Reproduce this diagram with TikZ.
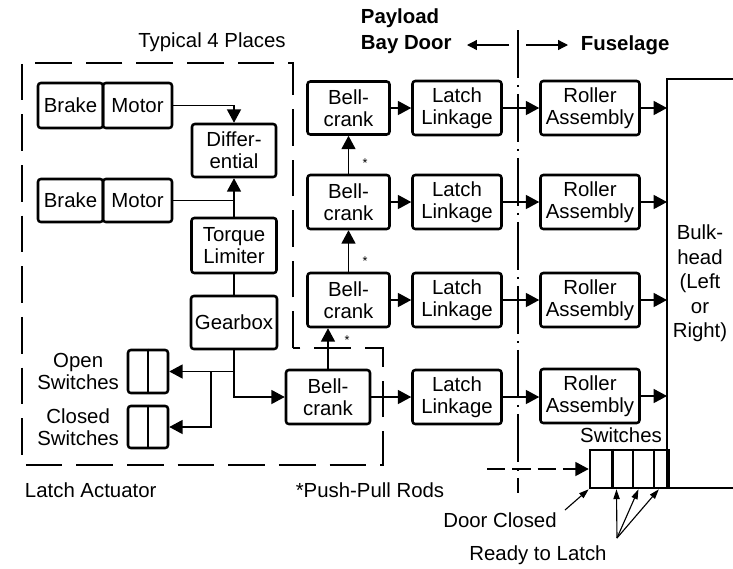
\documentclass[tikz,border=0pt]{standalone}
\usepackage{fontspec}
\setmainfont{Liberation Sans}
\usetikzlibrary{arrows.meta,calc,positioning}

\begin{document}
\begin{tikzpicture}[x=0.025cm, y=-0.025cm,
    every node/.style={font=\fontsize{14.5}{15.6}\selectfont},
    blk/.style={draw, line width=1.8pt, rounded corners=2pt, align=center, inner sep=1pt},
    wh/.style 2 args={minimum width=#1*0.025cm, minimum height=#2*0.025cm},
    wire/.style={line width=0.95pt},
    conn/.style={line width=0.95pt, -{Triangle[length=9.5pt,width=10pt]}},
    ptr/.style={line width=0.8pt, -{Triangle[length=7pt,width=4.5pt]}},
    hdr/.style={line width=0.9pt, -{Triangle[length=7pt,width=7pt]}},
    encl/.style={line width=1.7pt, dash pattern=on 26pt off 10pt},
    split/.style={line width=1.3pt, dash pattern=on 34pt off 5pt on 1.5pt off 5pt},
    star/.style={font=\small}]
    \useasboundingbox (0,0) rectangle (733,568);

    % 1. Latch actuator
    \node[blk, wh={65}{45}] (brk1) at (70.5,105.5) {Brake};
    \node[blk, wh={69}{45}] (mot1) at (137.5,105.5) {Motor};
    \node[blk, wh={84}{53}] (diff) at (234,150.5) {Differ-\\ential};
    \node[blk, wh={65}{43}] (brk2) at (70.5,200.5) {Brake};
    \node[blk, wh={69}{43}] (mot2) at (137.5,200.5) {Motor};
    \node[blk, wh={85}{55}] (torq) at (234,245.5) {Torque\\Limiter};
    \node[blk, wh={86}{53}] (gear) at (234,322.5) {Gearbox};
    \node[blk, wh={40}{43}] (osw) at (148,371.5) {};
    \node[blk, wh={40}{42}] (csw) at (148,427) {};
    \draw[line width=1.8pt] (osw.north) -- (osw.south);
    \draw[line width=1.8pt] (csw.north) -- (csw.south);
    \node[align=center, left=2pt of osw] (oswl) {Open\\Switches};
    \node[align=center, left=2pt of csw] (cswl) {Closed\\Switches};
    \node (typ) at (212,42) {Typical 4 Places};
    \node[anchor=west] (latact) at (20,490) {Latch Actuator};
    \draw[encl] (293,348) -- (293,63) -- (22,63) -- (22,465) -- (383,465) -- (383,348) -- cycle;

    % 2. Bell-cranks, latch linkages, rollers
    \node[blk, wh={82}{53}] (bc1) at (348.5,108) {Bell-\\crank};
    \node[blk, wh={82}{54}] (bc2) at (348.5,202) {Bell-\\crank};
    \node[blk, wh={82}{54}] (bc3) at (348.5,300) {Bell-\\crank};
    \node[blk, wh={84}{54}] (bc4) at (328,397) {Bell-\\crank};
    \node[blk, wh={89}{54}] (ll1) at (457,108) {Latch\\Linkage};
    \node[blk, wh={89}{54}] (ll2) at (457,202) {Latch\\Linkage};
    \node[blk, wh={89}{54}] (ll3) at (457,300) {Latch\\Linkage};
    \node[blk, wh={89}{54}] (ll4) at (457,397) {Latch\\Linkage};
    \node[blk, wh={99}{54}] (ra1) at (590,108) {Roller\\Assembly};
    \node[blk, wh={99}{54}] (ra2) at (590,202) {Roller\\Assembly};
    \node[blk, wh={99}{54}] (ra3) at (590,300) {Roller\\Assembly};
    \node[blk, wh={99}{54}] (ra4) at (590,396) {Roller\\Assembly};
    \node[align=center, font=\fontsize{14.5}{17.4}\selectfont, inner sep=0pt, outer sep=0pt,
        minimum width=66*0.025cm, minimum height=409*0.025cm] (bulk) at (700,283.5)
        {Bulk-\\head\\(Left\\or\\Right)};
    \draw[line width=1.8pt] (bulk.north east) -- (bulk.north west) -- (bulk.south west) -- (bulk.south east);
    \node[star] (st1) at (365,163) {*};
    \node[star] (st2) at (365,261) {*};
    \node[star] (st3) at (347,340) {*};
    \node (ppr) at (370,490) {*Push-Pull Rods};

    % 3. Switches at the bulkhead
    \node[draw, line width=1.8pt, wh={79}{38}] (sw) at (629.5,469) {};
    \draw[line width=1.8pt] ($(sw.north west)!0.29!(sw.north east)$) -- ($(sw.south west)!0.29!(sw.south east)$);
    \draw[line width=1.8pt] ($(sw.north west)!0.545!(sw.north east)$) -- ($(sw.south west)!0.545!(sw.south east)$);
    \draw[line width=1.8pt] ($(sw.north west)!0.8!(sw.north east)$) -- ($(sw.south west)!0.8!(sw.south east)$);
    \node (swl) at (621,435) {Switches};
    \node (dc) at (500,520) {Door Closed};
    \node (rtl) at (538,555) {Ready to Latch};

    % 4. Payload bay door / fuselage split
    \node[align=left, anchor=west, font=\bfseries\fontsize{14.5}{18.5}\selectfont] (pbd) at (356,31) {Payload\\Bay Door};
    \node[anchor=west, font=\bfseries\fontsize{14.5}{18.5}\selectfont] (fus) at (576,45) {Fuselage};
    \coordinate (divtop) at (518,30);
    \coordinate (divbot) at (518,493);
    \draw[split] (divtop) -- (divbot);
    \coordinate (hl) at (509,45);
    \coordinate (hr) at (526,45);
    \draw[hdr] (hl) -- ++(-42,0);
    \draw[hdr] (hr) -- ++(42,0);

    % 5. Connectors
    \draw[conn] (mot1.east) -| (diff.north);
    \draw[wire] (mot2.east) -| (torq.north);
    \draw[conn] (torq.north) -- (diff.south);
    \draw[wire] (torq.south) -- (gear.north);
    \draw[conn] (gear.south) |- (bc4.west);
    \draw[conn] (gear.south |- osw.east) -- (osw.east);
    \coordinate (swj) at (211,371.5);
    \draw[conn] (swj) |- (csw.east);
    \draw[conn] (bc4.north) -- (bc4.north |- bc3.south);
    \draw[conn] (bc3.north) -- (bc2.south);
    \draw[conn] (bc2.north) -- (bc1.south);
    \draw[conn] (bc1.east) -- (ll1.west);
    \draw[conn] (bc2.east) -- (ll2.west);
    \draw[conn] (bc3.east) -- (ll3.west);
    \draw[conn] (bc4.east) -- (ll4.west);
    \draw[conn] (ll1.east) -- (ra1.west);
    \draw[conn] (ll2.east) -- (ra2.west);
    \draw[conn] (ll3.east) -- (ra3.west);
    \draw[conn] (ll4.east) -- (ll4.east -| ra4.west);
    \draw[conn] (ra1.east) -- (ra1.east -| bulk.west);
    \draw[conn] (ra2.east) -- (ra2.east -| bulk.west);
    \draw[conn] (ra3.east) -- (ra3.east -| bulk.west);
    \draw[conn] (ra4.east) -- (ra4.east -| bulk.west);
    \coordinate (swin) at (487,469);
    \draw[conn, dash pattern=on 13pt off 5pt] (swin) -- (sw.west);
    \coordinate (dcp) at (565,510);
    \draw[ptr] (dcp) -- (sw.south west);
    \coordinate (rtp) at (617,538);
    \draw[ptr] (rtp) -- ($(sw.south west)!0.34!(sw.south east)$);
    \draw[ptr] (rtp) -- ($(sw.south west)!0.61!(sw.south east)$);
    \draw[ptr] (rtp) -- ($(sw.south west)!0.86!(sw.south east)$);
\end{tikzpicture}
\end{document}
